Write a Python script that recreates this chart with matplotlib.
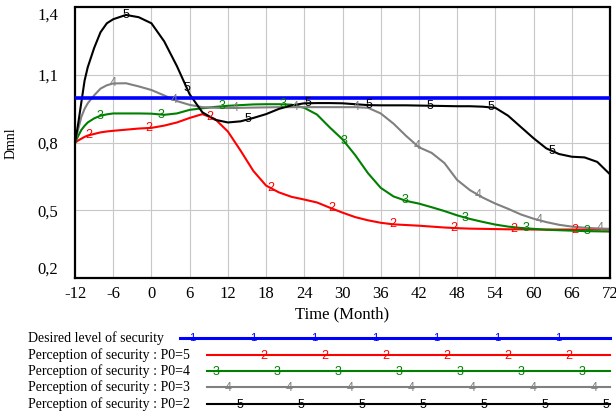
import numpy as np
import matplotlib
matplotlib.use('Agg')
import matplotlib.pyplot as plt

plt.rcParams['font.family'] = ['Liberation Serif', 'DejaVu Serif']

months = [-12, -11.5, -11, -10.5, -10, -9, -8, -7, -6, -4, -2, 0, 2, 4, 6, 8,
          10, 12, 14, 16, 18, 20, 22, 24, 26, 28, 30, 32, 34, 36, 38, 40, 42,
          44, 46, 48, 50, 52, 54, 56, 58, 60, 62, 64, 66, 68, 70, 72]

desired = 1.0

p0_5 = [0.80, 0.81, 0.818, 0.826, 0.832, 0.839, 0.846, 0.85, 0.853, 0.858,
        0.863, 0.866, 0.876, 0.89, 0.91, 0.927, 0.905, 0.85, 0.765, 0.675,
        0.61, 0.58, 0.56, 0.548, 0.535, 0.512, 0.49, 0.47, 0.456, 0.445,
        0.438, 0.435, 0.432, 0.428, 0.424, 0.421, 0.419, 0.418, 0.417, 0.416,
        0.416, 0.415, 0.415, 0.415, 0.415, 0.415, 0.415, 0.415]
p0_4 = [0.80, 0.83, 0.857, 0.875, 0.89, 0.908, 0.92, 0.926, 0.93, 0.93,
        0.93, 0.929, 0.924, 0.93, 0.946, 0.953, 0.959, 0.964, 0.967, 0.97,
        0.971, 0.971, 0.969, 0.955, 0.925, 0.868, 0.815, 0.745, 0.665, 0.60,
        0.562, 0.542, 0.53, 0.514, 0.497, 0.478, 0.462, 0.449, 0.437, 0.428,
        0.422, 0.418, 0.414, 0.412, 0.41, 0.408, 0.407, 0.406]
p0_3 = [0.80, 0.86, 0.915, 0.95, 0.975, 1.01, 1.04, 1.055, 1.063, 1.064,
        1.05, 1.034, 1.01, 0.985, 0.968, 0.958, 0.955, 0.954, 0.955, 0.956,
        0.957, 0.958, 0.958, 0.958, 0.958, 0.958, 0.958, 0.958, 0.955, 0.93,
        0.885, 0.83, 0.78, 0.755, 0.71, 0.635, 0.59, 0.557, 0.53, 0.507,
        0.482, 0.463, 0.448, 0.436, 0.428, 0.423, 0.42, 0.418]
p0_2 = [0.80, 0.885, 0.98, 1.075, 1.135, 1.22, 1.29, 1.33, 1.348, 1.367,
        1.357, 1.33, 1.25, 1.14, 1.015, 0.935, 0.902, 0.89, 0.895, 0.91,
        0.927, 0.95, 0.966, 0.975, 0.976, 0.976, 0.975, 0.971, 0.967, 0.966,
        0.966, 0.966, 0.965, 0.964, 0.963, 0.962, 0.962, 0.96, 0.955, 0.92,
        0.87, 0.82, 0.775, 0.75, 0.738, 0.735, 0.715, 0.66]

series = [
    ('Perception of security : P0=5', p0_5, '#ff0000', '2', -9.9),
    ('Perception of security : P0=4', p0_4, '#008000', '3', -8.0),
    ('Perception of security : P0=3', p0_3, '#808080', '4', -6.0),
    ('Perception of security : P0=2', p0_2, '#000000', '5', -4.0),
]
label_step = 9.55

xticks = list(range(-12, 73, 6))
yticks = [1.4, 1.1, 0.8, 0.5, 0.2]
ytick_labels = ['1,4', '1,1', '0,8', '0,5', '0,2']

fig = plt.figure(figsize=(6.16, 4.15), dpi=100)
ax = fig.add_axes([75/616, 1 - 278/415, 535/616, 270.5/415])

for x in xticks[1:-1]:
    ax.axvline(x, color='#c8c8c8', lw=0.8, zorder=0)
for y in yticks[1:-1]:
    ax.axhline(y, color='#c8c8c8', lw=0.8, zorder=0)

ax.axhline(desired, color='#0000ff', lw=2.6, zorder=3)

for name, vals, col, mark, start in series:
    ax.plot(months, vals, color=col, lw=1.5, zorder=2)
    mx = np.arange(start, 72, label_step)
    my = np.interp(mx, months, vals)
    for a, b in zip(mx, my):
        ax.text(a, b, mark, color=col, fontsize=9, family='Liberation Sans',
                ha='center', va='center', zorder=4)

ax.set_xlim(-12, 72)
ax.set_ylim(0.2, 1.4)
ax.set_xticks(xticks)
ax.set_xticklabels([str(t) for t in xticks], fontsize=12)
ax.set_yticks(yticks)
ax.set_yticklabels(ytick_labels, fontsize=12)
ax.tick_params(length=0, pad=6)
ax.tick_params(axis='y', pad=12)
labs = ax.get_yticklabels()
labs[0].set_va('top')
labs[-1].set_va('bottom')
for s in ax.spines.values():
    s.set_linewidth(1.6)
ax.set_ylabel('Dmnl', fontsize=10)
ax.yaxis.set_label_coords(-0.108, 0.5)
ax.set_xlabel('Time (Month)', fontsize=12, labelpad=3)

# legend drawn in pixel coordinates below the plot
lg = fig.add_axes([0, 0, 1, 1], facecolor='none')
lg.set_xlim(0, 616)
lg.set_ylim(415, 0)
lg.axis('off')

rows_y = [338, 355, 371, 387, 404]
lg.text(28, rows_y[0], 'Desired level of security', fontsize=10, va='center')
lg.plot([180, 610], [rows_y[0], rows_y[0]], color='#0000ff', lw=2.2)
for k in range(7):
    lg.text(192 + 61*k, rows_y[0], '1', color='#0000ff', fontsize=8,
            family='Liberation Sans', ha='center', va='center')

leg_first = [264, 216, 228, 240]
for (name, vals, col, mark, start), yy, x0 in zip(series, rows_y[1:], leg_first):
    lg.text(28, yy, name, fontsize=10, va='center')
    lg.plot([207, 610], [yy, yy], color=col, lw=1.5)
    for xx in np.arange(x0, 611, 61):
        lg.text(xx, yy + 1, mark, color=col, fontsize=9, family='Liberation Sans',
                ha='center', va='center')

fig.savefig('out.png', dpi=100)
